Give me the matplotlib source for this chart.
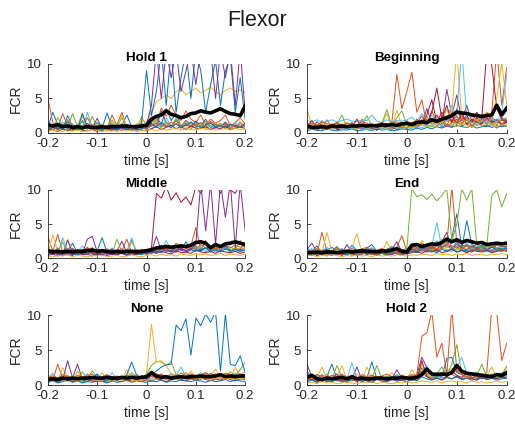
import numpy as np
import matplotlib
matplotlib.use('Agg')
import matplotlib.pyplot as plt

plt.rcParams['font.family'] = ['Liberation Sans', 'DejaVu Sans']

# matlab default line colours
mcol = ['#0072BD', '#D95319', '#EDB120', '#7E2F8E', '#77AC30', '#4DBEEE', '#A2142F']

titles = ['Hold 1', 'Beginning', 'Middle', 'End', 'None', 'Hold 2']
xticks = [-0.2, -0.1, 0, 0.1, 0.2]
yticks = [0, 5, 10]

# ---------------- Hold 1 ----------------
hold1_base = [
  [0.8,3.0,1.2,0.6,2.5,0.9,0.7,1.8,0.6,0.9,1.5,0.7,2.9,0.8,0.6,1.1,2.6,0.9,0.7,1.0,0.8,1.5,2.4,1.2,3.5,1.8,2.8,1.0,1.4,0.9,1.7,1.1,2.0,0.8,1.3,0.9,1.6,0.7,1.2,0.9,1.1],
  [5.0,1.5,0.8,2.8,1.0,0.6,1.2,0.7,2.2,0.9,0.5,1.0,0.7,2.6,1.1,3.0,0.8,0.6,1.3,0.7,1.0,2.3,1.2,3.6,2.4,4.0,2.5,1.8,3.2,2.0,1.5,2.6,1.2,2.0,1.4,1.8,2.6,1.0,1.5,2.2,1.3],
  [0.6,1.2,0.4,0.9,1.5,0.5,0.8,2.4,0.6,1.0,0.5,1.3,0.7,0.4,1.0,0.6,1.2,0.5,0.8,1.6,0.6,1.0,1.8,0.9,1.3,0.7,2.0,1.1,0.8,1.5,0.9,1.2,0.6,1.0,1.4,0.8,1.1,0.7,1.3,0.9,0.8],
  [1.0,0.5,1.4,0.7,1.9,0.6,0.9,0.5,1.1,0.7,2.1,0.6,1.0,0.5,1.2,0.7,0.5,1.0,0.6,0.8,0.5,1.4,0.8,3.2,1.5,1.0,1.8,0.8,1.2,0.9,1.6,0.7,1.1,1.5,0.8,1.0,1.3,0.7,1.1,0.9,1.4],
  [1.5,0.6,2.2,1.0,0.7,2.8,0.9,1.6,0.5,2.4,0.8,1.2,0.6,1.9,0.8,2.2,0.7,1.0,0.6,2.3,0.9,1.1,2.0,0.7,1.6,0.9,2.1,0.8,1.5,0.6,1.3,0.9,1.7,0.7,1.0,1.4,0.6,1.2,0.8,1.6,0.9],
  [0.4,1.0,0.6,1.6,0.5,0.8,1.3,0.4,3.0,0.7,0.5,1.1,0.6,0.9,0.4,1.4,0.6,0.8,1.2,0.5,0.9,0.6,1.3,0.7,2.2,0.9,1.4,0.6,1.8,1.0,0.7,1.5,0.8,1.1,0.6,1.3,0.9,0.7,1.4,0.8,1.0],
  [0.3,0.5,0.2,0.6,0.4,0.3,0.7,0.4,0.3,0.5,0.2,0.6,0.4,0.3,0.5,0.4,0.6,0.3,0.5,0.4,0.3,0.6,0.9,0.5,0.8,1.1,0.6,0.9,0.5,1.0,0.7,0.6,0.9,0.5,0.8,0.6,1.0,0.5,0.7,0.9,0.6],
  [0.7,0.4,0.9,0.5,0.3,0.8,0.6,0.4,1.0,0.5,0.7,0.3,0.8,0.6,0.4,0.9,0.5,0.7,0.4,0.6,0.8,1.2,0.9,1.5,1.0,0.8,1.3,0.9,1.1,1.6,1.0,0.8,1.2,1.4,0.9,1.1,0.7,1.3,1.0,0.8,1.2],
  [1.1,0.8,0.6,1.0,0.7,1.3,0.5,0.9,0.7,1.2,0.6,0.8,1.1,0.5,0.9,0.7,1.2,0.6,1.0,0.8,0.7,1.0,1.4,1.1,0.9,1.6,1.2,1.0,1.8,1.3,1.1,1.5,0.9,1.7,1.2,1.0,1.4,1.1,0.9,1.3,1.0],
  [0.2,0.4,0.3,0.2,0.5,0.3,0.4,0.2,0.3,0.5,0.4,0.2,0.3,0.4,0.2,0.5,0.3,0.4,0.2,0.3,0.4,0.5,0.3,0.6,0.4,0.5,0.7,0.4,0.6,0.5,0.4,0.7,0.5,0.6,0.4,0.5,0.6,0.4,0.7,0.5,0.6],
]
hold1_yellow = [0.9,0.5,1.3,0.7,1.8,0.6,1.0,2.9,0.8,0.5,1.2,0.7,0.5,1.5,0.8,2.6,0.9,0.6,1.1,1.9,1.5,3.0,4.5,5.0,5.5,5.0,6.0,6.5,5.5,6.0,6.5,5.8,6.2,6.6,6.0,5.5,6.2,6.5,6.0,6.2,5.8]
hold1_blue = [0.6,1.2,0.5,0.9,1.6,0.7,0.5,2.8,0.8,0.6,1.0,0.5,0.9,1.3,0.6,0.8,0.5,1.1,0.7,1.4,9.0,2.5,6.0,12,4.0,12,3.0,8.0,12,5.0,12,9.0,3.0,7.0,10.5,4.0,9.0,11,3.0,8.0,2.0]
hold1_purple = [0.4,0.8,0.5,1.2,0.6,0.4,0.9,0.5,1.4,0.7,0.5,0.9,0.6,0.4,1.0,0.6,0.8,0.5,0.7,0.9,1.2,4.0,12,5.0,12,8.0,12,6.0,9.0,12,7.0,12,10,12,5.0,12,8.0,12,4.0,12,3.0]
hold1_mean = [1.2,1.0,1.2,0.9,1.0,0.8,0.9,0.8,0.9,0.8,0.8,0.9,0.8,0.9,0.9,1.0,1.0,0.9,0.9,1.0,1.1,2.0,2.4,2.6,3.2,2.7,2.5,2.2,2.4,2.8,2.9,3.2,3.0,2.9,3.2,3.5,3.1,2.8,2.7,2.5,3.9]

# ---------------- Beginning ----------------
begin_base = [
  [0.6,1.0,0.4,0.8,0.5,1.2,0.6,0.4,0.9,0.7,0.5,1.0,0.6,0.8,0.4,1.1,0.7,0.5,0.9,0.6,0.8,1.2,0.7,1.5,0.9,1.1,1.8,0.8,1.3,0.9,2.0,1.0,1.4,0.8,1.6,1.1,0.9,1.3,0.7,1.2,1.0],
  [1.5,0.8,1.2,0.6,1.9,0.9,0.7,1.3,0.6,1.1,0.8,2.0,0.7,1.2,0.5,0.9,1.4,0.7,1.0,0.6,1.8,0.9,1.3,2.5,1.1,3.2,1.4,2.2,1.0,2.8,1.5,1.2,2.4,1.0,1.8,2.6,1.3,1.9,1.1,2.3,1.6],
  [3.5,1.0,0.7,1.4,0.9,0.6,1.2,0.8,1.6,0.6,1.0,0.7,1.3,0.5,0.9,1.2,2.8,0.7,3.3,1.0,0.8,1.5,1.0,2.0,1.3,1.0,2.4,1.4,3.5,1.1,1.8,1.2,1.5,0.9,2.2,1.3,1.7,1.0,1.5,2.0,1.2],
  [1.2,0.7,1.6,1.0,0.5,1.3,0.8,1.1,0.6,1.5,0.9,0.7,1.2,0.6,1.0,0.8,1.4,0.7,1.1,0.9,1.3,0.8,2.0,1.2,3.5,1.5,2.6,1.3,6.3,2.5,5.5,1.8,4.0,1.5,2.2,1.4,3.0,1.6,2.0,1.3,1.8],
  [0.8,1.3,0.6,1.8,0.9,0.7,1.2,2.6,0.8,1.0,0.6,1.1,2.5,0.9,0.7,1.4,3.4,1.0,2.2,3.2,1.2,0.9,1.6,1.1,2.4,1.3,1.9,1.0,2.5,1.6,1.2,2.0,1.4,1.8,1.0,1.5,2.1,1.2,1.7,1.4,1.5],
  [1.8,1.6,1.9,1.5,1.7,1.9,1.6,1.8,2.0,1.7,1.6,1.9,1.8,2.6,1.7,1.5,1.9,1.6,1.8,1.7,1.9,2.3,1.6,2.8,1.8,2.5,1.7,2.1,1.9,4.0,2.2,1.8,2.0,1.6,1.9,2.2,1.7,2.1,1.8,2.0,2.2],
  [0.9,1.8,0.7,1.2,0.5,0.9,1.5,0.6,1.0,0.8,2.0,0.7,1.3,0.6,0.9,1.1,0.7,1.2,0.8,1.0,0.7,1.4,0.9,1.2,2.6,4.8,1.5,3.0,1.8,2.4,1.4,2.8,1.2,2.0,1.6,1.3,2.2,1.5,1.8,1.1,1.6],
  [0.3,0.5,0.4,0.3,0.6,0.4,0.3,0.5,0.4,0.6,0.3,0.4,0.5,0.3,0.6,0.4,0.5,0.3,0.4,0.6,0.5,0.4,0.7,0.5,0.8,0.6,0.9,0.7,1.0,0.8,1.1,0.9,0.8,1.0,0.7,0.9,1.1,0.8,1.0,0.9,1.0],
  [1.2,1.4,1.1,1.6,1.3,1.2,1.5,1.1,1.4,1.3,1.2,1.6,1.4,1.1,1.3,1.5,1.2,1.4,1.6,1.3,1.2,1.5,1.8,1.4,2.0,1.6,1.5,2.2,1.7,1.9,1.5,2.4,1.8,1.6,2.0,1.7,1.9,2.3,1.6,1.8,2.0],
  [0.7,0.5,0.9,0.6,0.8,0.5,0.7,1.0,0.6,0.8,0.5,0.9,0.7,0.6,1.0,0.5,0.8,0.6,0.9,0.7,0.6,1.0,0.8,1.3,0.9,1.1,0.8,1.6,1.0,1.2,0.9,1.4,1.1,0.9,1.3,1.0,1.5,1.1,0.9,1.2,1.1],
]
begin_orange = [0.9,0.6,1.1,0.5,0.8,0.6,1.0,0.5,0.7,1.2,0.6,0.9,0.5,0.8,1.1,0.6,0.9,1.5,8.5,3.5,6.0,8.8,3.0,4.8,1.2,2.0,1.0,1.8,0.9,1.5,2.5,1.4,2.2,1.0,1.6,2.0,1.2,3.0,12,4.0,9.5]
begin_red = [0.5,0.8,0.4,1.0,0.6,0.9,0.5,0.7,1.1,0.6,0.8,0.5,0.9,0.7,0.4,1.0,0.6,0.8,0.5,0.9,0.7,1.2,0.9,1.5,1.2,3.0,6.5,2.0,4.0,1.5,3.5,1.8,2.5,1.5,3.0,2.0,12,9.8,3.5,2.0,1.5]
begin_yellow = [0.7,1.0,0.5,0.8,1.2,0.6,0.9,0.5,1.1,0.7,0.6,0.9,0.5,1.0,0.7,0.8,0.6,1.2,0.8,0.9,1.1,0.8,1.3,1.0,1.6,1.2,2.0,1.5,2.5,3.0,12,2.0,1.5,2.2,1.8,2.5,3.0,2.6,5.0,10.2,4.0]
begin_cyan = [0.4,0.7,0.5,0.9,0.6,0.4,0.8,0.5,0.7,0.6,0.9,0.5,0.7,0.4,0.8,0.6,0.5,0.9,0.6,0.7,0.8,0.6,1.0,0.7,1.2,0.9,1.4,1.0,1.8,2.2,3.0,12,2.0,1.5,1.2,1.8,1.4,2.0,1.6,3.0,8.5]
begin_mean = [1.0,0.8,0.8,0.9,0.8,1.0,0.9,1.0,0.9,1.0,1.0,1.1,1.0,1.1,1.0,1.2,1.1,1.2,1.1,1.3,1.4,1.2,1.5,1.6,1.5,1.9,1.7,2.0,2.2,2.5,3.0,2.9,2.8,2.6,2.5,2.4,2.5,2.6,4.0,2.6,3.6]

# ---------------- Middle ----------------
middle_base = [
  [1.2,0.8,1.5,0.6,1.0,2.2,0.7,1.3,0.9,0.6,1.1,3.0,0.8,1.4,0.7,1.0,0.6,2.6,0.9,1.2,0.8,1.5,1.0,1.9,1.2,0.9,1.6,1.1,2.4,1.3,1.8,1.0,1.5,0.9,2.2,1.2,1.7,0.8,1.4,1.1,1.6],
  [3.2,1.0,3.5,0.8,1.3,0.6,1.1,0.9,1.6,0.7,1.2,0.5,0.9,1.4,0.7,1.0,2.8,0.8,1.1,0.6,1.3,0.9,1.6,1.2,2.0,1.0,2.2,1.4,1.1,1.8,4.5,1.3,2.6,1.0,1.7,1.2,2.0,0.9,1.5,1.3,2.4],
  [0.7,3.4,1.0,0.6,2.8,0.9,0.5,1.2,0.8,0.6,1.4,0.7,1.0,0.5,0.9,1.3,0.7,2.4,1.0,0.8,1.1,1.4,0.9,1.6,1.1,1.3,0.8,1.5,1.0,1.9,1.2,1.6,0.9,1.4,1.1,1.8,1.3,1.0,1.5,1.2,1.4],
  [0.9,0.6,1.2,0.5,2.6,0.8,1.0,0.6,2.8,3.2,0.9,1.1,0.7,0.5,1.0,2.5,0.8,0.6,1.2,0.9,0.7,1.0,3.2,1.1,1.4,0.9,1.7,1.2,1.0,1.5,1.3,1.1,1.6,0.9,1.4,1.0,1.8,1.2,1.0,1.3,1.1],
  [1.5,0.7,1.0,2.4,0.9,1.3,0.6,1.1,0.8,1.6,0.7,1.0,1.4,0.6,2.8,0.9,1.2,0.7,1.0,1.3,0.9,1.2,1.5,1.0,1.3,1.8,1.1,2.0,1.4,1.2,1.6,1.3,2.2,1.1,1.5,1.9,1.2,1.6,1.3,2.6,1.5],
  [0.6,1.0,0.5,3.0,1.2,0.7,0.9,1.8,0.6,1.0,0.8,1.2,0.5,1.5,0.9,0.7,1.1,3.0,0.8,1.2,0.7,1.0,1.3,0.9,2.6,1.2,1.0,1.5,0.9,1.3,1.1,1.7,1.0,1.4,0.9,1.2,1.5,1.0,1.3,0.9,1.2],
  [0.4,0.6,0.3,0.7,0.5,0.4,0.8,0.5,0.6,0.3,0.7,0.5,0.4,0.6,0.5,0.8,0.4,0.6,0.5,0.7,0.6,0.9,0.7,1.0,0.8,0.6,1.1,0.8,0.9,0.7,1.2,0.9,0.8,1.0,0.7,1.1,0.9,0.8,1.0,0.7,0.9],
  [0.5,0.8,0.6,0.4,0.9,0.6,0.5,0.7,1.0,0.6,0.4,0.8,0.6,0.9,0.5,0.7,0.4,0.8,0.6,0.5,0.9,0.7,1.0,0.8,1.2,0.9,1.1,1.4,0.9,1.2,1.0,1.3,1.5,1.0,1.2,0.9,1.4,1.1,1.3,1.0,1.2],
  [1.0,1.3,0.9,1.1,1.4,0.8,1.2,1.0,1.5,0.9,1.1,1.3,0.8,1.2,1.0,1.4,0.9,1.1,1.3,1.0,1.2,1.5,1.1,1.8,1.3,1.6,1.2,1.9,1.4,1.7,1.3,2.0,1.5,1.8,1.4,1.6,2.1,1.5,1.9,1.6,1.8],
  [0.3,0.2,0.4,0.3,0.5,0.2,0.4,0.3,0.2,0.4,0.3,0.5,0.2,0.3,0.4,0.2,0.3,0.5,0.3,0.2,0.4,0.5,0.3,0.6,0.4,0.5,0.3,0.6,0.5,0.4,0.7,0.5,0.6,0.4,0.5,0.7,0.4,0.6,0.5,0.4,0.6],
]
middle_maroon = [0.8,1.2,0.6,1.0,0.7,1.4,0.9,0.6,1.1,0.8,0.5,1.0,0.7,1.3,0.6,0.9,1.2,0.7,1.0,0.8,1.1,1.5,9.5,8.8,10.5,8.5,9.6,8.2,9.0,7.8,10.5,9.5,11,10,11,9.5,11,10,9.5,11,10]
middle_purple = [0.6,0.9,0.5,1.1,0.7,0.5,1.3,0.8,0.6,1.0,0.7,0.5,0.9,0.6,1.2,0.8,0.5,1.0,0.7,0.9,0.6,1.1,0.8,1.4,1.0,1.2,0.9,1.5,1.1,1.3,2.0,11,4.0,11,2.0,11,6.0,11,1.5,11,4.0]
middle_mean = [1.1,0.9,1.0,0.9,1.0,0.9,1.0,1.0,1.1,1.2,1.0,1.1,1.0,0.9,1.0,0.9,1.0,1.0,0.9,1.0,1.1,1.2,1.5,1.6,1.7,1.6,1.7,1.8,1.7,1.9,2.3,2.4,2.2,1.5,2.0,1.7,2.1,2.2,2.4,2.2,2.0]

# ---------------- End ----------------
end_base = [
  [1.5,1.0,1.8,0.7,1.2,1.6,0.9,1.4,0.8,1.9,1.1,0.7,1.5,2.0,1.0,0.8,1.3,1.7,0.9,1.2,1.0,2.0,1.5,1.2,1.8,1.4,2.2,1.6,1.9,1.3,2.4,1.5,2.0,1.7,1.4,1.9,1.6,2.2,1.5,1.8,1.6],
  [0.8,1.2,0.6,3.8,1.0,0.7,1.3,0.5,0.9,1.1,0.6,1.4,0.8,0.5,1.0,0.7,1.2,0.9,1.6,3.3,1.0,1.8,1.2,2.2,1.5,1.1,1.9,1.4,2.5,1.2,1.7,1.3,2.0,1.0,1.6,1.2,1.9,1.1,1.5,1.3,1.7],
  [1.0,0.6,1.3,0.8,3.8,0.9,0.5,1.1,0.7,1.5,3.6,0.8,1.0,0.6,1.2,0.9,2.5,0.7,1.3,1.0,0.8,1.5,1.1,2.6,1.3,1.0,1.7,2.8,1.2,1.5,1.1,1.9,1.3,1.6,1.0,1.4,2.0,1.2,1.6,1.4,1.2],
  [1.3,2.2,0.8,1.1,0.6,1.0,1.7,0.7,2.0,0.9,1.2,0.6,1.0,1.5,0.8,1.1,0.7,1.3,2.4,0.9,1.1,1.4,1.0,1.8,1.3,1.6,1.1,2.4,3.8,1.4,2.0,1.5,1.2,1.8,1.3,1.6,1.1,1.7,1.4,1.2,1.5],
  [0.6,0.9,0.4,0.7,1.1,0.5,0.8,0.6,1.0,0.4,0.7,1.2,0.5,0.8,0.6,0.9,0.5,1.1,0.7,0.6,0.9,1.2,0.8,1.4,1.0,1.3,0.9,1.6,1.1,1.0,1.4,1.2,0.9,1.5,1.1,1.3,1.0,1.2,1.4,1.1,1.3],
  [0.9,1.4,0.7,1.0,1.6,0.8,1.2,0.6,1.1,1.8,0.9,1.3,0.7,1.5,1.0,0.8,1.2,0.9,1.4,1.0,1.2,1.6,1.3,1.9,1.5,1.8,5.2,1.6,2.0,1.4,1.8,1.5,2.2,1.3,1.7,1.4,1.9,1.2,1.6,1.4,1.5],
  [0.5,0.8,0.4,0.6,0.9,0.5,0.7,0.4,0.8,0.6,0.5,0.9,0.6,0.7,0.4,0.8,0.6,0.5,0.9,0.7,0.6,0.8,1.0,0.7,1.1,0.9,1.2,0.8,1.0,1.3,0.9,1.1,0.8,1.2,1.0,0.9,1.1,0.8,1.0,1.2,1.0],
  [0.6,0.4,0.8,0.5,0.7,0.4,0.9,0.6,0.5,0.8,0.4,0.7,0.6,0.9,0.5,0.7,0.4,0.8,0.6,0.5,0.7,1.0,0.8,1.2,0.9,1.1,0.8,1.3,1.0,1.4,0.9,1.2,1.1,0.9,1.3,1.0,1.2,0.9,1.1,1.0,1.2],
  [1.2,1.0,1.4,1.1,1.3,0.9,1.5,1.2,1.0,1.4,1.1,1.3,1.6,1.0,1.2,1.4,1.1,1.5,1.2,1.3,1.1,1.6,1.4,1.9,1.5,1.7,1.4,2.0,1.6,1.8,1.5,1.9,1.7,1.6,2.0,1.5,1.8,1.6,1.9,1.7,1.8],
  [0.3,0.5,0.2,0.4,0.3,0.5,0.4,0.2,0.4,0.3,0.5,0.3,0.4,0.2,0.5,0.3,0.4,0.3,0.5,0.4,0.3,0.5,0.4,0.6,0.5,0.4,0.7,0.5,0.6,0.4,0.6,0.5,0.7,0.4,0.6,0.5,0.4,0.6,0.5,0.7,0.5],
]
end_blue = [0.7,1.1,0.5,0.9,1.3,0.6,1.0,0.8,0.5,1.2,0.7,0.9,1.4,0.6,1.0,0.8,1.2,0.7,1.0,0.9,0.8,1.3,1.0,1.5,1.2,1.6,2.5,1.5,2.0,3.0,6.5,1.5,5.5,2.0,1.5,1.8,1.3,1.6,1.2,1.5,1.4]
end_red = [0.5,0.9,0.6,0.8,0.4,1.0,0.7,0.5,0.9,0.6,0.8,0.5,1.1,0.7,0.6,0.9,0.5,1.0,0.8,0.6,0.9,1.1,1.4,1.0,1.3,1.6,1.2,1.5,2.0,10.5,2.2,1.4,1.8,1.2,1.5,1.1,1.4,1.0,1.3,1.2,1.1]
end_green = [1.0,0.8,1.3,0.7,1.1,0.9,1.5,0.8,1.2,0.6,1.0,1.4,0.9,1.1,0.7,1.2,0.9,1.3,1.0,1.2,1.4,10.2,9.0,9.3,8.6,9.4,8.4,9.2,10.2,2.5,5.0,10.2,8.5,10.2,2.0,1.6,1.8,9.2,10.0,7.5,9.5]
end_mean = [0.8,0.8,0.9,0.8,0.9,0.9,0.8,0.9,1.0,0.9,1.0,1.1,1.0,1.0,0.9,1.1,1.0,1.2,1.4,1.0,0.9,1.9,2.0,1.7,1.9,2.1,2.0,2.3,2.8,2.4,2.7,2.3,2.6,2.4,2.2,2.3,2.0,2.1,2.2,2.1,2.2]

# ---------------- None ----------------
none_base = [
  [0.6,1.0,0.5,0.8,1.3,0.7,0.9,0.5,1.1,0.8,1.5,0.7,1.0,0.6,1.2,0.9,0.7,1.3,0.8,1.0,0.6,1.4,0.9,1.1,0.8,1.2,1.0,0.7,1.3,0.9,1.1,0.8,1.4,1.0,1.2,0.9,1.5,1.1,0.8,1.2,1.0],
  [1.2,0.7,3.0,0.9,1.4,0.6,1.0,0.8,1.6,0.7,1.1,0.5,0.9,1.3,0.7,1.0,0.6,1.2,0.8,1.4,1.0,1.6,1.1,0.8,1.3,0.9,1.5,1.0,1.2,0.8,1.4,1.1,1.6,0.9,1.3,1.0,1.2,1.5,0.9,1.3,1.1],
  [0.8,1.4,0.6,2.5,1.0,0.7,2.0,0.9,0.5,1.2,0.8,1.8,0.6,1.0,1.3,0.7,2.2,0.9,1.1,0.6,1.2,1.5,0.9,1.3,1.0,1.6,0.8,1.4,1.1,2.0,1.2,1.0,1.6,1.3,2.3,1.1,1.5,0.9,2.6,1.3,2.0],
  [0.9,0.6,1.1,0.7,3.5,1.0,3.0,0.8,1.2,0.6,1.0,0.8,1.3,0.7,0.9,1.1,0.6,1.0,0.8,1.2,0.9,1.3,1.0,1.6,1.1,0.9,1.4,1.0,1.2,1.5,1.0,1.3,0.9,1.7,1.1,1.4,1.0,1.2,1.6,1.1,1.3],
  [1.4,0.8,1.1,0.6,1.0,1.3,0.7,1.9,0.9,2.0,1.2,0.8,1.5,1.0,0.7,1.3,1.0,1.8,1.2,1.0,1.6,2.8,3.4,3.3,2.8,3.4,1.5,1.2,1.8,1.0,1.4,1.1,1.7,1.3,1.0,1.5,1.2,1.9,1.4,2.2,3.3],
  [1.0,1.7,0.8,1.2,0.6,1.4,0.9,1.1,1.6,0.8,1.3,1.0,0.7,1.8,0.9,1.2,0.8,1.5,1.0,1.3,1.1,0.9,1.4,1.2,1.0,1.7,1.3,2.6,1.1,1.5,1.2,1.8,1.0,1.4,1.2,1.6,1.1,1.3,1.7,1.2,1.4],
  [0.5,0.8,0.4,0.7,0.9,0.5,0.6,0.4,0.8,0.6,0.5,0.7,0.4,0.9,0.6,0.5,0.8,0.6,0.7,0.5,0.8,0.6,0.9,0.7,0.5,0.8,1.0,0.7,0.6,0.9,0.7,1.0,0.8,0.6,0.9,0.7,1.1,0.8,0.6,0.9,0.8],
  [0.4,0.6,0.3,0.5,0.7,0.4,0.6,0.3,0.5,0.4,0.7,0.5,0.3,0.6,0.4,0.5,0.7,0.4,0.6,0.5,0.4,0.6,0.5,0.7,0.4,0.6,0.5,0.8,0.6,0.5,0.7,0.6,0.4,0.7,0.5,0.6,0.8,0.5,0.7,0.6,0.5],
  [1.1,1.3,1.0,1.5,1.2,1.0,1.4,1.1,1.3,1.6,1.0,1.2,1.5,1.1,1.3,1.0,1.4,1.2,1.5,1.1,1.3,1.2,1.6,1.4,1.2,1.5,1.3,1.7,1.4,1.6,1.3,1.5,1.8,1.4,1.6,1.3,1.7,1.5,1.4,1.6,1.5],
  [0.8,0.5,1.0,0.7,0.6,0.9,0.5,0.8,0.7,1.0,0.6,0.9,0.5,0.8,1.1,0.6,0.9,0.7,0.6,1.0,0.7,0.9,0.8,1.1,0.7,1.0,0.8,0.9,1.2,0.8,1.0,0.9,1.1,0.8,1.0,1.2,0.9,1.1,0.8,1.0,0.9],
]
none_yellow = [0.7,1.1,0.5,0.9,0.6,1.2,0.8,0.5,1.0,0.7,0.9,0.6,1.3,0.8,0.5,1.0,0.7,1.2,0.9,0.6,1.5,8.7,3.3,3.5,2.8,1.5,1.0,1.3,0.8,1.1,0.9,1.4,1.0,0.7,1.2,0.9,1.5,1.1,0.8,1.2,1.0]
none_blue = [0.5,0.8,0.4,1.0,0.6,0.9,1.2,0.7,0.5,1.0,1.6,0.8,0.6,1.2,0.7,0.9,1.5,3.3,1.4,0.9,1.0,1.6,2.0,2.6,2.9,3.0,8.6,7.8,9.5,4.3,9.6,8.5,10.2,9.0,10.5,2.0,10.2,3.0,2.8,4.2,1.8]
none_mean = [0.8,0.9,0.8,1.0,0.9,1.0,0.9,1.0,1.0,1.1,1.0,1.0,1.1,1.0,1.0,1.1,1.0,1.1,1.0,1.1,1.2,1.8,1.3,1.1,1.2,1.0,1.1,1.2,1.1,1.2,1.2,1.3,1.2,1.2,1.3,1.5,1.2,1.3,1.2,1.3,1.3]

# ---------------- Hold 2 ----------------
hold2_base = [
  [2.0,1.0,1.5,0.8,1.2,3.0,0.9,1.4,0.7,1.1,0.8,1.3,1.0,3.3,0.9,1.2,0.7,1.0,1.5,0.8,1.1,0.9,1.3,2.5,1.6,1.0,1.4,1.2,3.8,4.0,1.8,1.5,1.2,1.6,1.0,1.3,1.1,1.5,0.9,1.2,1.4],
  [1.0,0.7,1.2,0.5,0.9,0.6,1.1,0.8,0.5,1.0,0.7,0.6,0.9,0.5,0.8,1.2,0.6,0.9,0.7,1.0,0.8,0.6,1.1,1.8,1.2,0.9,1.4,1.0,1.2,1.6,1.1,0.9,1.3,1.0,0.8,1.2,0.9,1.1,1.4,1.0,1.2],
  [1.4,0.8,1.1,2.6,0.9,0.6,1.2,2.8,0.8,1.0,1.6,0.7,2.6,0.9,1.2,0.6,1.0,1.8,0.8,1.1,0.7,2.2,1.0,3.0,1.5,1.1,1.8,1.3,1.6,2.4,1.3,1.1,1.7,1.2,1.0,1.4,1.2,2.6,1.1,1.5,2.8],
  [3.0,1.2,0.8,1.5,0.7,1.0,1.6,0.6,1.1,0.9,2.6,0.7,1.2,0.8,1.0,0.6,1.3,0.9,2.2,1.0,0.8,1.2,1.5,4.0,2.5,1.3,1.0,1.6,1.2,2.0,1.4,1.1,1.8,1.0,1.3,0.9,1.2,1.0,1.5,1.1,1.6],
  [0.8,1.3,0.6,1.0,1.6,0.8,2.8,1.1,0.7,1.4,0.9,1.2,0.6,1.0,2.8,0.9,1.3,0.7,1.0,1.2,0.9,1.4,1.1,2.4,1.3,1.0,1.6,2.6,1.4,3.0,5.8,1.5,1.2,1.8,1.3,3.0,1.2,1.6,1.1,1.4,2.6],
  [1.1,0.7,1.4,0.9,1.2,0.6,1.0,1.5,0.8,3.2,1.0,0.7,1.3,0.9,1.1,0.6,1.2,0.8,1.5,0.9,1.2,1.0,1.4,1.8,2.8,1.3,1.1,1.5,2.2,1.7,2.5,4.0,1.6,1.3,1.9,1.2,1.5,1.1,1.4,1.8,1.3],
  [0.6,0.9,0.4,0.8,0.5,1.0,0.6,0.7,0.4,0.9,0.5,0.8,0.6,0.4,0.9,0.7,0.5,0.8,0.6,0.7,0.5,0.9,0.7,3.5,1.2,0.8,1.0,0.7,1.1,0.9,1.3,0.8,1.0,0.9,0.7,1.1,0.8,1.0,0.9,1.2,1.0],
  [0.5,0.7,0.4,0.9,0.6,0.5,0.8,0.4,0.7,0.6,0.9,0.5,0.7,0.4,0.8,0.6,0.5,0.9,0.6,0.7,0.5,0.8,0.6,1.2,0.9,0.7,1.0,0.8,1.1,0.9,1.3,0.8,1.0,0.7,0.9,1.1,0.8,1.0,0.7,0.9,1.0],
  [1.3,1.1,1.5,1.2,1.0,1.4,1.2,1.6,1.1,1.3,1.0,1.5,1.2,1.4,1.1,1.3,1.6,1.2,1.0,1.4,1.2,1.5,1.3,2.0,1.7,1.5,1.8,1.4,1.9,1.6,2.2,1.7,1.5,1.8,1.4,1.6,1.3,1.5,1.7,1.4,1.6],
  [0.3,0.4,0.2,0.5,0.3,0.4,0.2,0.3,0.5,0.3,0.2,0.4,0.3,0.5,0.2,0.4,0.3,0.2,0.4,0.3,0.5,0.3,0.4,0.6,0.5,0.4,0.6,0.3,0.5,0.6,0.4,0.5,0.3,0.6,0.4,0.5,0.3,0.4,0.6,0.4,0.5],
]
hold2_orange = [0.8,1.1,0.6,0.9,1.3,0.7,1.0,0.5,1.2,0.8,0.6,1.0,0.7,1.4,0.9,0.6,1.1,0.8,1.0,0.7,0.9,1.2,1.5,7.0,7.5,10.5,4.0,6.0,1.5,11,2.0,1.5,1.2,1.0,1.4,1.1,1.8,11,10.3,3.5,6.0]
hold2_mean = [1.1,1.4,0.9,0.8,1.0,0.9,1.0,1.1,0.9,1.2,0.9,1.0,0.9,0.9,1.0,1.0,0.9,1.0,1.0,1.1,1.0,1.0,1.1,1.5,2.3,1.6,1.5,1.6,1.5,1.8,2.8,2.0,1.7,1.6,1.5,1.4,1.3,1.2,1.5,1.4,1.8]

panels = [
  (hold1_base, [(hold1_yellow, mcol[2]), (hold1_blue, mcol[0]), (hold1_purple, mcol[3])], hold1_mean),
  (begin_base, [(begin_orange, mcol[1]), (begin_red, mcol[6]), (begin_yellow, mcol[2]), (begin_cyan, mcol[5])], begin_mean),
  (middle_base, [(middle_maroon, mcol[6]), (middle_purple, mcol[3])], middle_mean),
  (end_base, [(end_blue, mcol[0]), (end_red, mcol[1]), (end_green, mcol[4])], end_mean),
  (none_base, [(none_yellow, mcol[2]), (none_blue, mcol[0])], none_mean),
  (hold2_base, [(hold2_orange, mcol[1])], hold2_mean),
]

lefts = [0.093, 0.596]
widths = [0.383, 0.388]
bottoms = [0.688, 0.394, 0.096]
heights = [0.162, 0.160, 0.164]

fig = plt.figure(figsize=(5.15, 4.26), dpi=100)
fig.text(0.5, 0.953, 'Flexor', ha='center', va='center', fontsize=15.5, color='#1a1a1a')

axc = '#262626'
for k, (base, extra, mean) in enumerate(panels):
  r, c = k // 2, k % 2
  ax = fig.add_axes([lefts[c], bottoms[r], widths[c], heights[r]])
  for i, y in enumerate(base):
    ax.plot(np.linspace(-0.2, 0.2, len(y)), y, color=mcol[i % 7], lw=0.7)
  for y, col in extra:
    ax.plot(np.linspace(-0.2, 0.2, len(y)), y, color=col, lw=0.7)
  ax.plot(np.linspace(-0.2, 0.2, len(mean)), mean, color='k', lw=2.6)
  ax.set_xlim(-0.2, 0.2)
  ax.set_ylim(0, 10)
  ax.set_xticks(xticks)
  ax.set_xticklabels(['-0.2', '-0.1', '0', '0.1', '0.2'])
  ax.set_yticks(yticks)
  for s in ['top', 'right']:
    ax.spines[s].set_visible(False)
  for s in ['left', 'bottom']:
    ax.spines[s].set_color(axc)
    ax.spines[s].set_linewidth(0.6)
  ax.tick_params(direction='in', length=3, width=0.6, colors=axc, labelsize=9.5)
  ax.tick_params(axis='y', pad=4.5)
  ax.tick_params(axis='x', pad=3.5)
  ax.set_xlabel('time [s]', fontsize=10, color=axc, labelpad=3)
  ax.set_ylabel('FCR', fontsize=10, color=axc, labelpad=3)
  ax.set_title(titles[k], fontsize=9.6, fontweight='bold', color='k', pad=2)

fig.savefig('out.png', dpi=100)
